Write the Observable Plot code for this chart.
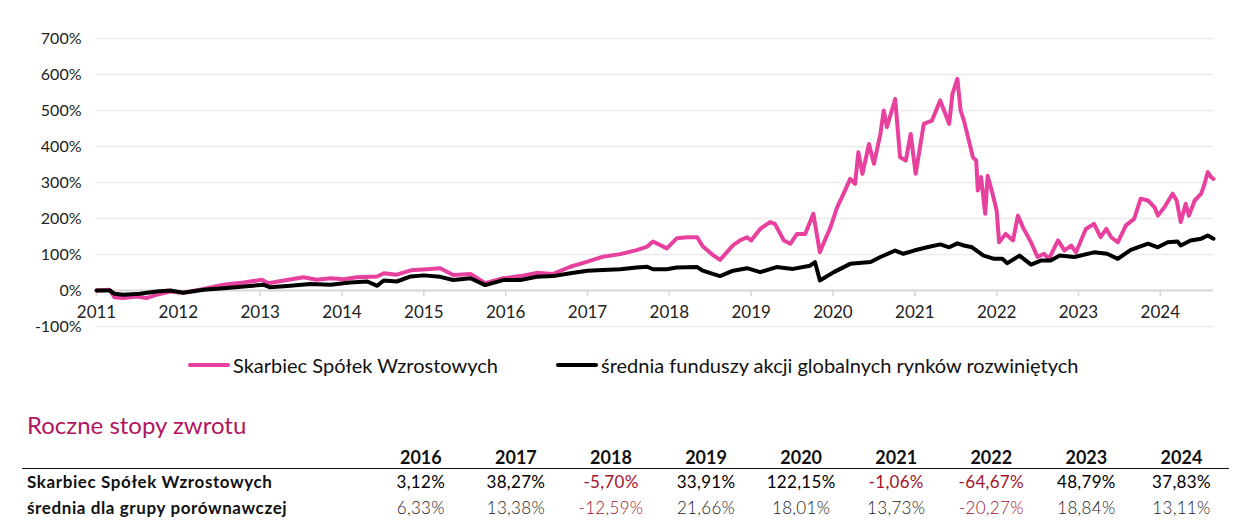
<!DOCTYPE html>
<html><head><meta charset="utf-8">
<script src="https://cdn.jsdelivr.net/npm/d3@7"></script>
<script src="https://cdn.jsdelivr.net/npm/@observablehq/plot@0.6"></script>
<style>
body{margin:0;background:#fff;font-family:Lato,"Open Sans",sans-serif;width:1260px;height:530px;position:relative;overflow:hidden;color:#111}
#chart{position:absolute;left:0;top:0}
#legend{position:absolute;top:352px;left:0;width:1260px;height:26px}
.item{position:absolute;top:0;height:26px;display:flex;align-items:center;font-size:20px;color:#111;white-space:nowrap}
.swatch{width:42px;height:4px;margin-right:3px;border-radius:2px}
#title{position:absolute;left:27px;top:410px;font-size:24px;color:#b0155e;white-space:nowrap}
table{position:absolute;left:22px;top:447px;width:1207px;border-collapse:collapse;font-size:17px;table-layout:fixed}
td,th{padding:0;white-space:nowrap}
th{font-weight:700;height:21px;text-align:center;color:#111;font-size:18px;line-height:21px}
thead tr{border-bottom:1.5px solid #111}
td{height:26px;text-align:center;line-height:26px}
td.lab{text-align:left;padding-left:5px;font-weight:700;color:#111;letter-spacing:0.6px}
td.v{letter-spacing:0.3px}
tr.r1 td.v{color:#000;font-weight:400}
tr.r2 td.v{color:#1a1a1a;font-weight:300}
td.neg{color:#a3132b !important}
</style></head>
<body>
<div id="chart"></div>
<div id="legend"></div>
<div id="title">Roczne stopy zwrotu</div>
<table id="tbl"></table>
<script>
// ---- data (decimal year, cumulative return %) ----
const fundName = "Skarbiec Spółek Wzrostowych";
const peerName = "średnia funduszy akcji globalnych rynków rozwiniętych";
const fundDates = [2011.00,2011.16,2011.22,2011.33,2011.49,2011.61,2011.73,2011.90,2012.06,2012.31,2012.55,2012.80,2013.02,2013.10,2013.29,2013.53,2013.69,2013.86,2014.02,2014.18,2014.43,2014.51,2014.67,2014.84,2015.04,2015.20,2015.36,2015.57,2015.75,2015.97,2016.18,2016.38,2016.58,2016.79,2017.00,2017.19,2017.40,2017.60,2017.73,2017.80,2017.97,2018.09,2018.22,2018.34,2018.41,2018.53,2018.62,2018.78,2018.87,2018.95,2019.00,2019.11,2019.23,2019.29,2019.40,2019.48,2019.56,2019.66,2019.76,2019.84,2019.89,2019.97,2020.05,2020.13,2020.21,2020.27,2020.31,2020.36,2020.44,2020.50,2020.58,2020.62,2020.66,2020.76,2020.82,2020.89,2020.95,2021.01,2021.11,2021.21,2021.31,2021.42,2021.46,2021.52,2021.56,2021.60,2021.65,2021.71,2021.75,2021.77,2021.81,2021.86,2021.89,2021.95,2022.00,2022.03,2022.11,2022.20,2022.26,2022.32,2022.42,2022.50,2022.58,2022.64,2022.75,2022.83,2022.91,2022.97,2023.09,2023.19,2023.27,2023.34,2023.40,2023.48,2023.58,2023.68,2023.76,2023.85,2023.93,2023.97,2024.05,2024.15,2024.20,2024.25,2024.31,2024.35,2024.42,2024.50,2024.54,2024.58,2024.62,2024.65];
const fundValues = [0,2,-19,-21,-17,-21,-12,-3,-6,4,16,22,30,20,28,37,30,34,31,37,39,48,44,56,59,62,43,46,20,34,40,49,46,66,80,94,101,112,122,136,117,145,148,148,122,99,85,126,140,148,139,171,190,185,139,130,157,157,213,106,134,176,231,269,310,296,384,324,407,352,435,500,454,532,370,361,435,324,463,472,528,463,546,588,500,472,426,370,361,278,315,213,319,269,222,134,157,139,208,176,134,93,102,88,139,111,125,106,171,185,148,171,148,134,181,199,255,250,231,208,231,269,250,190,241,208,250,269,296,329,315,310];
const peerDates = [2011.00,2011.16,2011.22,2011.33,2011.53,2011.73,2011.90,2012.06,2012.31,2012.55,2012.80,2013.04,2013.12,2013.37,2013.61,2013.86,2014.10,2014.31,2014.43,2014.51,2014.67,2014.84,2015.00,2015.20,2015.36,2015.57,2015.75,2015.97,2016.18,2016.38,2016.58,2016.79,2017.00,2017.19,2017.40,2017.60,2017.73,2017.80,2017.97,2018.09,2018.34,2018.41,2018.53,2018.62,2018.78,2018.95,2019.11,2019.31,2019.51,2019.72,2019.78,2019.84,2020.01,2020.21,2020.46,2020.58,2020.76,2020.86,2020.99,2021.15,2021.31,2021.42,2021.52,2021.60,2021.70,2021.84,2021.97,2022.07,2022.13,2022.28,2022.42,2022.54,2022.66,2022.77,2022.95,2023.19,2023.35,2023.48,2023.64,2023.85,2023.97,2024.09,2024.21,2024.25,2024.37,2024.50,2024.58,2024.65];
const peerValues = [0,0,-9,-12,-9,-3,0,-6,2,6,11,16,9,13,18,16,22,25,13,28,25,39,42,38,29,34,15,29,29,38,40,48,55,57,59,64,66,59,59,64,65,55,46,40,55,62,51,65,60,69,79,28,51,74,79,93,111,102,111,120,128,120,131,125,120,97,88,88,76,97,72,83,83,97,93,106,102,88,113,130,120,134,136,125,139,144,153,144];
const xTickYears = [2011,2012,2013,2014,2015,2016,2017,2018,2019,2020,2021,2022,2023,2024];
const yTicks = [-100,0,100,200,300,400,500,600,700];

// table
const tableYears = [2016,2017,2018,2019,2020,2021,2022,2023,2024];
const tableFund = [3.12,38.27,-5.70,33.91,122.15,-1.06,-64.67,48.79,37.83];
const tablePeer = [6.33,13.38,-12.59,21.66,18.01,13.73,-20.27,18.84,13.11];
const tableRowNames = ["Skarbiec Spółek Wzrostowych","średnia dla grupy porównawczej"];

const colFund = "#e8409f", colPeer = "#000000";

const fund = fundDates.map((d,i)=>({x:d,y:fundValues[i]}));
const peer = peerDates.map((d,i)=>({x:d,y:peerValues[i]}));

const chart = Plot.plot({
  width:1260, height:340,
  marginLeft:96, marginRight:47, marginTop:38, marginBottom:14,
  style:{fontFamily:"Lato, 'Open Sans', sans-serif", fontSize:"15px", color:"#222", background:"#fff"},
  x:{domain:[2011,2024.65], axis:null},
  y:{domain:[-100,700], axis:null},
  marks:[
    Plot.ruleY(yTicks.filter(d=>d!==0), {stroke:"#ebebeb", strokeWidth:1.6}),
    Plot.ruleY([0], {stroke:"#d6d6d6", strokeWidth:2}),
    Plot.ruleX(xTickYears, {x:d=>d, y1:0, y2:-17, stroke:"#d6d6d6", strokeWidth:1.5}),
    Plot.text(yTicks, {x:2011, y:d=>d, text:d=>d+"%", textAnchor:"end", dx:-15, fontSize:16, fill:"#222"}),
    Plot.text(xTickYears, {x:d=>d, y:0, text:d=>String(d), dy:22, fontSize:17, fill:"#222"}),
    Plot.line(fund, {x:"x", y:"y", stroke:colFund, strokeWidth:4, strokeLinejoin:"round"}),
    Plot.line(peer, {x:"x", y:"y", stroke:colPeer, strokeWidth:4, strokeLinejoin:"round"})
  ]
});
document.getElementById("chart").append(chart);

// legend
const legend = document.getElementById("legend");
[[fundName,colFund,188],[peerName,colPeer,556]].forEach(([name,col,left])=>{
  const it = document.createElement("div");
  it.className="item"; it.style.left=left+"px";
  const sw=document.createElement("span"); sw.className="swatch"; sw.style.background=col;
  const tx=document.createElement("span"); tx.textContent=name;
  it.append(sw,tx); legend.append(it);
});

// table
const fmt = v => v.toFixed(2).replace(".",",")+"%";
const tbl = document.getElementById("tbl");
let html = '<colgroup><col style="width:351px">'+tableYears.map(()=>'<col style="width:95px">').join("")+'</colgroup>';
html += '<thead><tr><th></th>'+tableYears.map(y=>'<th>'+y+'</th>').join("")+'</tr></thead><tbody>';
[[tableFund,"r1"],[tablePeer,"r2"]].forEach(([vals,cls],i)=>{
  html += '<tr class="'+cls+'"><td class="lab">'+tableRowNames[i]+'</td>'+vals.map(v=>'<td class="v'+(v<0?' neg':'')+'">'+fmt(v)+'</td>').join("")+'</tr>';
});
html += '</tbody>';
tbl.innerHTML = html;
</script>
</body></html>
